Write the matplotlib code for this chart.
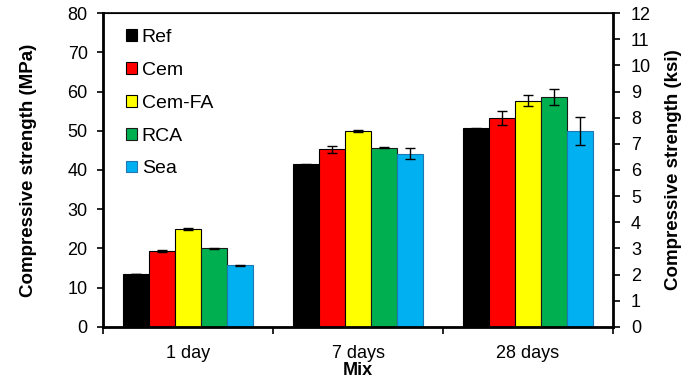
import numpy as np
import matplotlib
matplotlib.use('Agg')
from matplotlib import pyplot as plt

plt.rcParams['font.family'] = ['Liberation Sans', 'DejaVu Sans']

ages = ['1 day', '7 days', '28 days']
mixes = ['Ref', 'Cem', 'Cem-FA', 'RCA', 'Sea']

# compressive strength (MPa) per mix, one value per age
ref = [13.5, 41.4, 50.6]
cem = [19.3, 45.3, 53.2]
cem_fa = [24.9, 49.9, 57.6]
rca = [20.0, 45.7, 58.6]
sea = [15.7, 44.2, 49.9]

ref_err = [0.0, 0.1, 0.15]
cem_err = [0.2, 0.9, 1.8]
cem_fa_err = [0.3, 0.3, 1.4]
rca_err = [0.1, 0.1, 2.1]
sea_err = [0.1, 1.4, 3.5]

values = [ref, cem, cem_fa, rca, sea]
errors = [ref_err, cem_err, cem_fa_err, rca_err, sea_err]
colors = ['#000000', '#FF0000', '#FFFF00', '#00B050', '#00B0F0']
edges = ['#000000', '#000000', '#000000', '#1a1a1a', '#1F78B4']

fig = plt.figure(figsize=(6.88, 3.85), dpi=100)
ax = fig.add_axes([0.1497, 0.151, 0.7413, 0.815])

x = np.arange(len(ages))
width = 0.153
for i, (vals, errs) in enumerate(zip(values, errors)):
    pos = x + (i - 2) * width
    ax.bar(pos, vals, width, color=colors[i], edgecolor=edges[i], linewidth=0.8,
           label=mixes[i], zorder=2)
    ax.errorbar(pos, vals, yerr=errs, fmt='none', ecolor='black', elinewidth=1,
                capsize=3.5, capthick=1, zorder=3)

ax.set_xlim(-0.5, 2.5)
ax.set_ylim(0, 80)
ax.set_yticks(range(0, 81, 10))
ax.set_xticks(x)
ax.set_xticklabels(ages)
ax.set_xticks([-0.5, 0.5, 1.5, 2.5], minor=True)
ax.tick_params(axis='x', which='major', length=0, labelsize=13, pad=13)
ax.tick_params(axis='x', which='minor', length=5, width=1.2, direction='out')
ax.tick_params(axis='y', length=4, width=1.2, direction='out', labelsize=13, pad=7)
ax.spines['top'].set_linewidth(1.2)
ax.spines['left'].set_linewidth(2)
ax.spines['bottom'].set_linewidth(2)

ax.set_xlabel('Mix', fontsize=13, fontweight='bold', labelpad=0)
ax.set_ylabel('Compressive strength (MPa)', fontsize=13.5, fontweight='bold', labelpad=22)

ax2 = ax.twinx()
ax2.set_ylim(0, 12)
ax2.set_yticks(range(0, 13))
ax2.tick_params(axis='y', length=5, width=1.2, direction='out', labelsize=13, pad=8)
ax2.spines['right'].set_linewidth(2)
ax2.set_ylabel('Compressive strength (ksi)', fontsize=13.5, fontweight='bold', labelpad=10)

leg = ax.legend(loc='upper left', frameon=False, fontsize=14, handlelength=0.55,
                handleheight=0.55, handletextpad=0.25, labelspacing=0.82,
                borderaxespad=0.0, bbox_to_anchor=(0.03, 0.975))

fig.savefig('out.png', dpi=100)
